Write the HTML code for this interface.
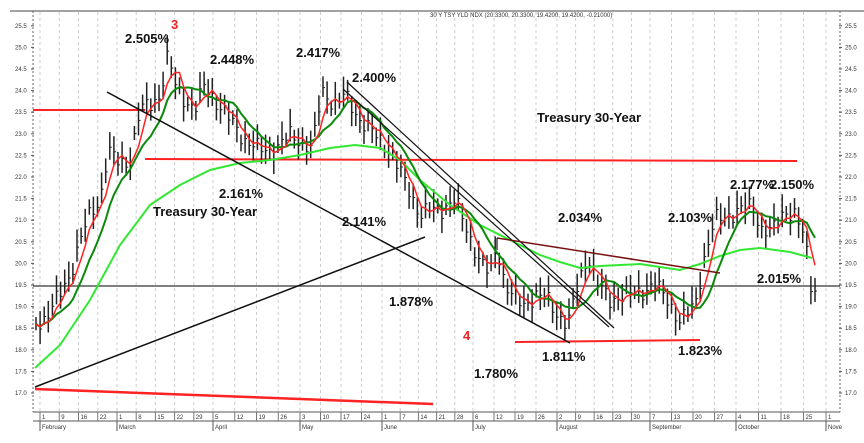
<!DOCTYPE html>
<html><head><meta charset="utf-8"><style>
body{margin:0;background:#fff}
svg{display:block;font-family:"Liberation Sans",sans-serif}
</style></head><body>
<svg id="s" width="864" height="443" xmlns="http://www.w3.org/2000/svg">
<rect width="864" height="443" fill="#fff"/>
<g id="grid"></g>
<line x1="10" y1="11" x2="864" y2="11" stroke="#444" stroke-width="1"/>
<line x1="33" y1="11" x2="33" y2="412" stroke="#666" stroke-dasharray="2,2"/>
<line x1="840" y1="11" x2="840" y2="412" stroke="#666" stroke-dasharray="2,2"/>
<g id="axes" font-size="6" fill="#333"></g>
<text x="430" y="17" font-size="6" fill="#333">30 Y TSY YLD NDX (20.3300, 20.3300, 19.4200, 19.4200, -0.21000)</text>
<line x1="33" y1="110" x2="145" y2="110" stroke="#f22" stroke-width="2"/>
<line x1="145" y1="159" x2="797" y2="161" stroke="#f22" stroke-width="2"/>
<line x1="35" y1="389" x2="433" y2="404" stroke="#f22" stroke-width="2.5"/>
<line x1="515" y1="342" x2="700" y2="340" stroke="#f22" stroke-width="2"/>
<line x1="33" y1="286" x2="840" y2="286" stroke="#555" stroke-width="1.5"/>
<g id="bars"></g>
<polyline id="lg" fill="none" stroke="#33e833" stroke-width="2"/>
<polyline id="dg" fill="none" stroke="#0a8a0a" stroke-width="2"/>
<polyline id="rd" fill="none" stroke="#f22" stroke-width="1.5"/>
<line x1="107" y1="92" x2="570" y2="343" stroke="#111" stroke-width="1.5"/>
<line x1="35" y1="387" x2="425" y2="237" stroke="#111" stroke-width="1.5"/>
<line x1="347" y1="82" x2="614" y2="328" stroke="#111" stroke-width="1.2"/>
<line x1="343" y1="89" x2="609" y2="327" stroke="#111" stroke-width="1.2"/>
<line x1="497" y1="238" x2="720" y2="273" stroke="#711" stroke-width="1.5"/>
<line x1="497" y1="238" x2="497" y2="250" stroke="#111" stroke-width="1.2"/>
<g font-weight="bold" font-size="13" fill="#111">
<text x="125" y="43">2.505%</text>
<text x="210" y="64">2.448%</text>
<text x="296" y="57">2.417%</text>
<text x="352" y="82">2.400%</text>
<text x="219" y="198">2.161%</text>
<text x="342" y="226">2.141%</text>
<text x="389" y="306">1.878%</text>
<text x="558" y="222">2.034%</text>
<text x="668" y="222">2.103%</text>
<text x="730" y="189">2.177%</text>
<text x="770" y="189">2.150%</text>
<text x="757" y="283">2.015%</text>
<text x="542" y="361">1.811%</text>
<text x="678" y="355">1.823%</text>
<text x="474" y="378">1.780%</text>
<text x="537" y="122">Treasury 30-Year</text>
<text x="153" y="216">Treasury 30-Year</text>
</g>
<text x="171" y="29" font-size="13" font-weight="bold" fill="#e22">3</text>
<text x="463" y="340" font-size="13" font-weight="bold" fill="#e22">4</text>
</svg>
<script>
var NS="http://www.w3.org/2000/svg";
function el(p,t,a,txt){var e=document.createElementNS(NS,t);for(var k in a)e.setAttribute(k,a[k]);if(txt!=null)e.textContent=txt;p.appendChild(e);return e;}
function Y(v){return 177+(22-v)*43.2;}
var ax=document.getElementById('axes'),gr=document.getElementById('grid');
for(var v=17;v<=25.5;v+=0.5){var y=Y(v);el(ax,'text',{x:15,y:y+2},v.toFixed(1));el(ax,'text',{x:845,y:y+2},v.toFixed(1));
el(ax,'line',{x1:31,y1:y,x2:34,y2:y,stroke:'#555'});el(ax,'line',{x1:839,y1:y,x2:842,y2:y,stroke:'#555'});}
el(ax,'line',{x1:33,y1:412,x2:840,y2:412,stroke:'#555'});
el(ax,'line',{x1:33,y1:421,x2:840,y2:421,stroke:'#555'});
var months=[["February",42],["March",119],["April",215],["May",302],["June",384],["July",475],["August",559],["September",652],["October",738],["Nove",828]];
var days=[[1,9,16,22],[1,8,15,22,29],[5,12,19,26],[3,10,17,24],[1,7,14,21,28],[6,12,19,26],[2,9,16,23,30],[7,13,20,27],[4,11,18,25],[1]];
for(var m=0;m<months.length;m++){var x0=months[m][1],x1=m<9?months[m+1][1]:870,ds=days[m];
el(ax,'line',{x1:x0-2,y1:412,x2:x0-2,y2:431,stroke:'#555'});
el(ax,'text',{x:x0,y:429},months[m][0]);
for(var d=0;d<ds.length;d++){var x=x0+d*(m<9?(x1-x0)/ds.length:0);
el(ax,'text',{x:x,y:419},ds[d]);el(ax,'line',{x1:x-2,y1:412,x2:x-2,y2:421,stroke:'#777'});
el(gr,'line',{x1:x-2,y1:12,x2:x-2,y2:411,stroke:'#ccc','stroke-dasharray':'3,3'});}}
var P=[[35,325],[45,318],[60,295],[70,275],[80,240],[90,215],[100,200],[108,150],[120,165],[130,160],[140,110],[150,105],[160,95],[168,55],[175,85],[185,100],[195,110],[205,85],[215,100],[230,120],[245,140],[260,150],[275,150],[290,135],[300,140],[312,150],[322,90],[335,105],[345,95],[360,120],[375,135],[390,150],[400,172],[410,192],[420,215],[430,210],[440,210],[455,200],[465,225],[480,262],[490,275],[497,245],[505,285],[515,300],[525,305],[535,295],[548,300],[558,315],[568,325],[578,285],[588,255],[598,285],[610,300],[625,295],[640,292],[655,285],[668,300],[680,322],[695,305],[705,255],[715,220],[728,215],[742,210],[752,205],[762,230],[772,232],[785,210],[795,215],[805,240],[811,285],[816,290]];
function interp(x){for(var i=1;i<P.length;i++){if(x<=P[i][0]){var a=P[i-1],b=P[i],t=(x-a[0])/(b[0]-a[0]);return a[1]+t*(b[1]-a[1]);}}return P[P.length-1][1];}
var bars=document.getElementById('bars'),cl=[],xs=[];
for(var x=36,i=0;x<=817;x+=4.1,i++){var c=interp(x)+Math.sin(i*2.3)*6+Math.sin(i*0.9)*4;var h=12+Math.abs(Math.sin(i*1.7))*18;
el(bars,'line',{x1:x,y1:c-h*0.6,x2:x,y2:c+h*0.5,stroke:'#222','stroke-width':1.5});
el(bars,'line',{x1:x,y1:c,x2:x+2,y2:c,stroke:'#222','stroke-width':1});
cl.push(c);xs.push(x);}
function ma(n){var s=[];for(var i=0;i<cl.length;i++){var a=0,k=0;for(var j=Math.max(0,i-n+1);j<=i;j++){a+=cl[j];k++;}s.push(xs[i].toFixed(1)+","+(a/k).toFixed(1));}return s.join(" ");}
document.getElementById('rd').setAttribute('points',ma(4));
document.getElementById('dg').setAttribute('points',ma(9));
var LG=[[35,368],[60,345],[90,300],[120,245],[150,205],[180,185],[210,170],[240,163],[270,160],[300,155],[330,148],[355,145],[380,148],[400,160],[420,180],[450,205],[480,225],[510,240],[540,255],[560,262],[580,268],[600,266],[640,264],[680,270],[700,264],[720,256],[740,250],[760,248],[790,252],[812,258]];
document.getElementById('lg').setAttribute('points',LG.map(function(p){return p.join(",")}).join(" "));
</script>
</body></html>
